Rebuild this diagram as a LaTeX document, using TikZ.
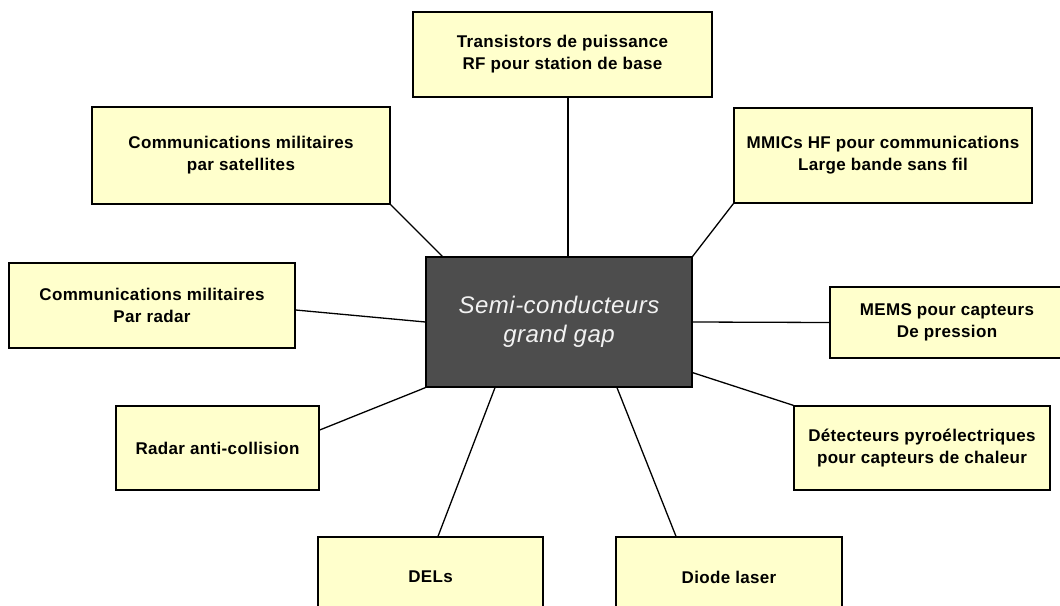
\documentclass[tikz,border=0pt]{standalone}
\usepackage{fontspec}
\setmainfont{Liberation Sans}
\newfontfamily\bfont[LetterSpace=2.0]{Liberation Sans}
\definecolor{boxyellow}{HTML}{FFFFCC}
\definecolor{coregray}{HTML}{4D4D4D}
\definecolor{coretext}{HTML}{F2F2F2}
\begin{document}
\begin{tikzpicture}[x=1pt,y=-1pt,
  appbox/.style={draw=black, line width=1.3pt, fill=boxyellow, inner sep=0pt,
    align=center, font=\bfont\bfseries\fontsize{17}{22}\selectfont, text=black},
  corebox/.style={draw=black, line width=1.3pt, fill=coregray, inner sep=0pt,
    align=center, font=\bfont\itshape\fontsize{24}{29}\selectfont, text=coretext},
  link/.style={draw=black, line width=1.3pt}]
\useasboundingbox (0,0) rectangle (1060,605);
\clip (0,0) rectangle (1060,605);
\fill[white] (0,0) rectangle (1060,605);

% connectors first (behind boxes)
\node[corebox, minimum width=266pt, minimum height=130pt] (c) at (559,322) {Semi-conducteurs\\grand gap};

\node[appbox, minimum width=299pt, minimum height=85pt] (top) at (562.5,54.5) {Transistors de puissance\\RF pour station de base};
\node[appbox, minimum width=298pt, minimum height=97pt] (sat) at (241,155.5) {Communications militaires\\par satellites};
\node[appbox, minimum width=298pt, minimum height=95pt] (mmic) at (883,155.5) {MMICs HF pour communications\\Large bande sans fil};
\node[appbox, minimum width=286pt, minimum height=85pt] (radcom) at (152,305.5) {Communications militaires\\Par radar};
\node[appbox, minimum width=234pt, minimum height=71pt] (mems) at (947,322.5) {MEMS pour capteurs\\De pression};
\node[appbox, minimum width=203pt, minimum height=84pt] (radar) at (217.5,448) {Radar anti-collision};
\node[appbox, minimum width=256pt, minimum height=84pt] (pyro) at (922,448) {Détecteurs pyroélectriques\\pour capteurs de chaleur};
\node[appbox, minimum width=225pt, minimum height=80pt] (dels) at (430.5,577) {DELs};
\node[appbox, minimum width=226pt, minimum height=80pt] (diode) at (729,577) {Diode laser};

\draw[link] ([xshift=5.5pt]top.south) -- ([xshift=9pt]c.north);
\draw[link] (sat.south east) -- ([xshift=17pt]c.north west);
\draw[link] (mmic.south west) -- (c.north east);
\draw[link] ([yshift=-4.5pt]radcom.east) -- (c.west);
\draw[link] (c.east) -- (mems.west);
\draw[link] ([yshift=15pt]c.south east) -- (pyro.north west);
\draw[link] ([yshift=18pt]radar.east) -- (c.south west);
\draw[link] ([xshift=-64pt]c.south) -- ([xshift=7.5pt]dels.north);
\draw[link] ([xshift=58pt]c.south) -- ([xshift=-53pt]diode.north);
\end{tikzpicture}
\end{document}
